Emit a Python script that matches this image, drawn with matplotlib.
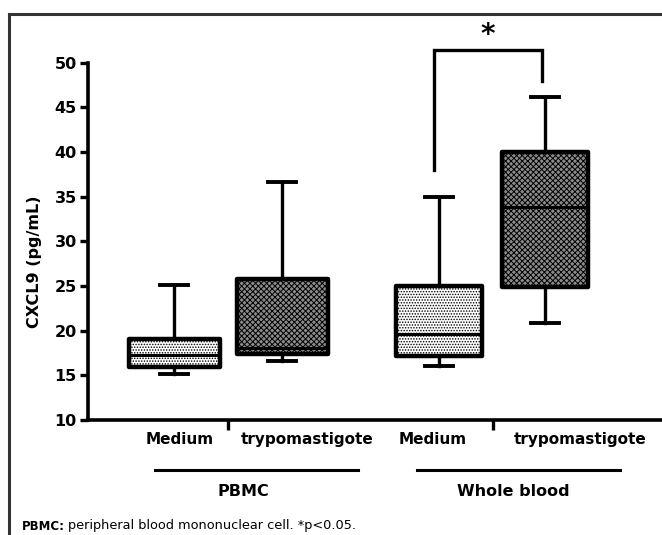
import matplotlib

matplotlib.use("Agg")
import matplotlib.pyplot as plt
from matplotlib.lines import Line2D

# data (CXCL9, pg/mL)
groups = ["PBMC", "Whole blood"]
conditions = ["Medium", "trypomastigote", "Medium", "trypomastigote"]
whislo = [15.1, 16.6, 16.0, 20.9]
q1 = [15.9, 17.4, 17.2, 24.9]
med = [17.3, 18.1, 19.6, 33.9]
q3 = [19.1, 25.8, 25.0, 40.0]
whishi = [25.1, 36.7, 35.0, 46.2]
yticks = [10, 15, 20, 25, 30, 35, 40, 45, 50]

# layout
positions = [0.80, 1.80, 3.25, 4.23]
widths = [0.85, 0.85, 0.80, 0.80]
group_ticks = [1.30, 3.75]
label_x = [0.85, 2.03, 3.19, 4.56]
group_lines = [(0.62, 2.50), (3.05, 4.93)]
group_label_x = [1.435, 3.935]
faces = ["white", "#8c8c8c", "white", "#8c8c8c"]
hatches = ["......", "xxxxxx", "......", "xxxxxx"]

plt.rcParams["font.family"] = ["DejaVu Sans"]
plt.rcParams["hatch.linewidth"] = 0.7

fig = plt.figure(figsize=(6.62, 5.35), dpi=100)
ax = fig.add_axes([88 / 662, 115 / 535, 574 / 662, 406 / 535])

stats = [
    {"whislo": lo, "q1": a, "med": m, "q3": b, "whishi": hi, "fliers": []}
    for lo, a, m, b, hi in zip(whislo, q1, med, q3, whishi)
]
bp = ax.bxp(
    stats,
    positions=positions,
    widths=widths,
    patch_artist=True,
    showfliers=False,
    capwidths=0.26,
    boxprops={"linewidth": 3.2, "edgecolor": "black"},
    whiskerprops={"linewidth": 2.4, "color": "black"},
    capprops={"linewidth": 2.8, "color": "black"},
    medianprops={"linewidth": 2.2, "color": "black"},
)
for patch, face, hatch in zip(bp["boxes"], faces, hatches):
    patch.set_facecolor(face)
    patch.set_hatch(hatch)
    patch.set_joinstyle("round")

ax.set_xlim(0, 574 / 108)
ax.set_ylim(10, 10 + 406 / 8.93)
ax.spines["top"].set_visible(False)
ax.spines["right"].set_visible(False)
ax.spines["left"].set_bounds(10, 50)
ax.spines["left"].set_linewidth(2.6)
ax.spines["bottom"].set_linewidth(2.6)
ax.set_yticks(yticks)
ax.tick_params(axis="y", width=2.4, length=6, labelsize=11.5, pad=2)
ax.set_xticks(group_ticks, ["", ""])
ax.tick_params(axis="x", width=2.4, length=7)
for lab in ax.get_yticklabels():
    lab.set_fontweight("bold")
ax.set_ylabel("CXCL9 (pg/mL)", fontsize=11.5, fontweight="bold")
ax.yaxis.set_label_coords(-0.080, 0.39)

trans = ax.get_xaxis_transform()
for x, text in zip(label_x, conditions):
    ax.text(x, -0.049, text, transform=trans, ha="center", va="center",
            fontsize=11, fontweight="bold", clip_on=False)
for (x0, x1), gx, name in zip(group_lines, group_label_x, groups):
    ax.add_line(Line2D([x0, x1], [-0.123, -0.123], transform=trans,
                       color="black", linewidth=2.2, clip_on=False))
    ax.text(gx, -0.177, name, transform=trans, ha="center", va="center",
            fontsize=11.5, fontweight="bold", clip_on=False)

# significance bracket between the whole blood boxes
bx0, bx1 = positions[2] - 0.05, positions[3] - 0.03
ax.plot([bx0, bx0, bx1, bx1], [38.0, 51.4, 51.4, 48.0], color="black",
        linewidth=2.4, clip_on=False, solid_joinstyle="miter")
ax.text((bx0 + bx1) / 2, 53.1, "*", ha="center", va="center",
        fontsize=20, fontweight="bold")

# outer frame (top and left edges only)
fig.add_artist(Line2D([9 / 662, 1], [1 - 14 / 535, 1 - 14 / 535],
                      color="#333333", linewidth=2.2, transform=fig.transFigure))
fig.add_artist(Line2D([9 / 662, 9 / 662], [0, 1 - 14 / 535],
                      color="#333333", linewidth=2.2, transform=fig.transFigure))

cap = fig.text(22 / 662, 9 / 535, "PBMC:", fontsize=8.5, fontweight="bold",
               va="center", ha="left")
ax.annotate("peripheral blood mononuclear cell. *p<0.05.", xy=(1, 0.5),
            xycoords=cap, xytext=(2.5, 0), textcoords="offset points",
            va="center", ha="left", fontsize=9.3, annotation_clip=False)

fig.savefig("out.png", dpi=100)
